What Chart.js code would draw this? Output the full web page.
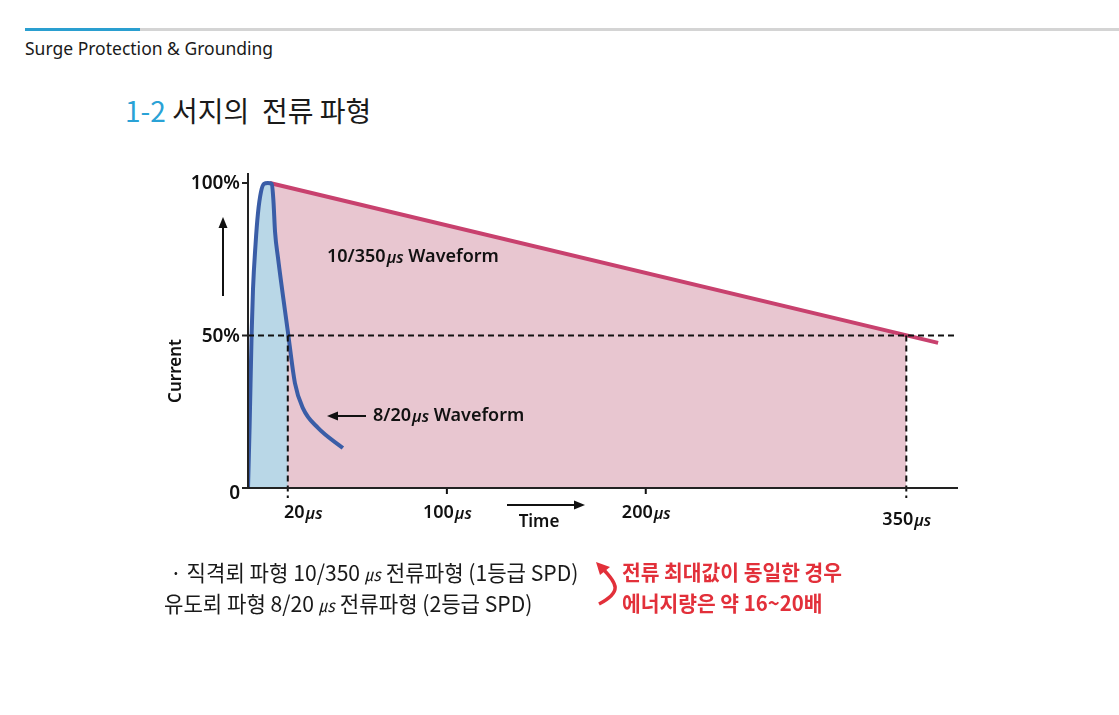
<!DOCTYPE html>
<html>
<head>
<meta charset="utf-8">
<script src="https://cdn.jsdelivr.net/npm/chart.js@4.4.1/dist/chart.umd.min.js"></script>
<style>
  body { margin: 0; background: #fff; width: 1119px; height: 715px; position: relative; overflow: hidden; font-family: "Noto Sans", "Noto Sans CJK KR", sans-serif; }
  #chart { position: absolute; left: 0; top: 0; }
  .txt { position: absolute; white-space: nowrap; color: #1a1a1a; }
  .bar { position: absolute; top: 28px; height: 3px; }
</style>
</head>
<body>
<div class="bar" style="left:25px; width:1094px; background:#d4d4d4;"></div>
<div class="bar" style="left:25px; width:115px; background:#2a9fd0;"></div>
<div class="txt" style="left:25px; top:36px; font-size:17.5px;">Surge Protection &amp; Grounding</div>
<div class="txt" style="left:125px; top:90px; font-size:28px; font-family:'Noto Sans CJK KR';"><span style="color:#2aa2d6;">1-2</span> 서지의&nbsp; 전류 파형</div>

<canvas id="chart" width="1119" height="715"></canvas>

<div class="txt" style="left:170px; top:555px; font-size:22px; line-height:32px; font-family:'Noto Sans CJK KR'; transform-origin:left; transform:scaleX(0.96);">· 직격뢰 파형 10/350 <i style="font-size:17px;">㎲</i> 전류파형 (1등급 SPD)</div>
<div class="txt" style="left:164px; top:586px; font-size:22px; line-height:32px; font-family:'Noto Sans CJK KR'; transform-origin:left; transform:scaleX(0.96);">유도뢰 파형 8/20 <i style="font-size:17px;">㎲</i> 전류파형 (2등급 SPD)</div>
<div class="txt" style="left:622px; top:556px; font-size:21px; line-height:30px; font-weight:bold; color:#e2303a; font-family:'Noto Sans CJK KR'; transform-origin:left; transform:scaleX(0.97);">전류 최대값이 동일한 경우</div>
<div class="txt" style="left:622px; top:587px; font-size:21px; line-height:30px; font-weight:bold; color:#e2303a; font-family:'Noto Sans CJK KR'; transform-origin:left; transform:scaleX(0.97);">에너지량은 약 16~20배</div>
<svg style="position:absolute; left:0; top:0;" width="1119" height="715">
  <path d="M599 604 C 622 592, 618 584, 602 568" fill="none" stroke="#e2303a" stroke-width="3.5"/>
  <polygon points="596,562 610,567 600,575" fill="#e2303a"/>
</svg>

<script>
// 10/350us waveform (time in diagram units, current in %)
const longTime = [0, 11, 331];
const longCurrent = [0, 100, 50.3];
const longTailTime = [11, 347];
const longTailCurrent = [100, 47.6];

// 8/20us waveform
const shortTime = [0, 0.8, 1.8, 2.5, 3.8, 5, 6.5, 8, 10, 12, 12.8, 13.6, 15.1, 20, 23.6, 27.6, 35.2, 47.7];
const shortCurrent = [0, 20, 50, 65, 80, 90, 97, 99.7, 100, 99.7, 94, 84, 75.4, 51.5, 34.4, 26.2, 19.7, 13.1];

// x ticks (the 350 tick sits where the drawing puts it, not to scale)
const xTickPos = [20, 100, 200, 331];
const xTickText = ['20', '100', '200', '350'];
const yTickPos = [100, 50, 0];
const yTickText = ['100%', '50%', '0'];

const pts = (xs, ys) => xs.map((x, i) => ({ x: x, y: ys[i] }));
const shortFillEnd = shortTime.findIndex(t => t > 20);

const overlay = {
    id: 'overlay',
    afterDatasetsDraw(chart) {
        const ctx = chart.ctx;
        const xs = chart.scales.x, ys = chart.scales.y;
        const x0 = xs.getPixelForValue(0), y0 = ys.getPixelForValue(0);
        const y50 = ys.getPixelForValue(50);
        ctx.save();

        // dashed guides
        ctx.strokeStyle = '#111';
        ctx.lineWidth = 2;
        ctx.setLineDash([6, 4]);
        ctx.beginPath();
        ctx.moveTo(x0, y50); ctx.lineTo(chart.chartArea.right, y50);
        [20, 331].forEach(v => {
            const px = xs.getPixelForValue(v);
            ctx.moveTo(px, y50); ctx.lineTo(px, y0 + 10);
        });
        [100, 200].forEach(v => {
            const px = xs.getPixelForValue(v);
            ctx.moveTo(px, y0); ctx.lineTo(px, y0 + 9);
        });
        ctx.stroke();
        ctx.setLineDash([]);

        // axes
        ctx.strokeStyle = '#222';
        ctx.beginPath();
        ctx.moveTo(x0, chart.chartArea.top); ctx.lineTo(x0, y0);
        ctx.moveTo(x0 - 6, y0); ctx.lineTo(chart.chartArea.right, y0);
        [100, 50].forEach(v => {
            const py = ys.getPixelForValue(v);
            ctx.moveTo(x0 - 6, py); ctx.lineTo(x0, py);
        });
        ctx.stroke();

        // y labels
        ctx.fillStyle = '#111';
        ctx.font = '600 19px "Noto Sans"';
        ctx.textAlign = 'right';
        ctx.textBaseline = 'middle';
        yTickPos.forEach((v, i) => {
            ctx.fillText(yTickText[i], x0 - 8, ys.getPixelForValue(v) + (v === 0 ? 6 : 1));
        });

        // x labels: number + italic µs
        xTickPos.forEach((v, i) => {
            const px = xs.getPixelForValue(v);
            ctx.font = '600 18px "Noto Sans"';
            const w1 = ctx.measureText(xTickText[i]).width;
            ctx.font = 'italic 600 16px "Noto Sans"';
            const w2 = ctx.measureText('µs').width;
            const left = px - (w1 + w2) / 2 + (v === 20 ? 15 : 0);
            const py = y0 + (v === 331 ? 32 : 25);
            ctx.textAlign = 'left';
            ctx.font = '600 18px "Noto Sans"';
            ctx.fillText(xTickText[i], left, py);
            ctx.font = 'italic 600 16px "Noto Sans"';
            ctx.fillText('µs', left + w1 + 1, py + 1);
        });

        // Time label and arrow
        ctx.font = '600 17px "Noto Sans"';
        ctx.textAlign = 'center';
        ctx.fillText('Time', 539, 522);
        arrow(ctx, 507, 505, 585, 505);

        // Current label and arrow
        ctx.save();
        ctx.translate(176, 371);
        ctx.rotate(-Math.PI / 2);
        ctx.fillText('Current', 0, 0);
        ctx.restore();
        arrow(ctx, 223, 296, 223, 217);

        // waveform labels
        ctx.textAlign = 'left';
        label(ctx, '10/350', ' Waveform', 327, 257);
        label(ctx, '8/20', ' Waveform', 373, 416);
        arrow(ctx, 366, 416, 327, 416);

        ctx.restore();
    }
};

function label(ctx, a, b, x, y) {
    ctx.font = '600 18px "Noto Sans"';
    ctx.fillText(a, x, y);
    let w = ctx.measureText(a).width;
    ctx.font = 'italic 600 16px "Noto Sans"';
    ctx.fillText('µs', x + w + 1, y + 1);
    w += ctx.measureText('µs').width + 1;
    ctx.font = '600 18px "Noto Sans"';
    ctx.fillText(b, x + w, y);
}

function arrow(ctx, x1, y1, x2, y2) {
    const a = Math.atan2(y2 - y1, x2 - x1);
    ctx.strokeStyle = '#111';
    ctx.lineWidth = 2;
    ctx.beginPath();
    ctx.moveTo(x1, y1);
    ctx.lineTo(x2 - 6 * Math.cos(a), y2 - 6 * Math.sin(a));
    ctx.stroke();
    ctx.beginPath();
    ctx.moveTo(x2, y2);
    ctx.lineTo(x2 - 11 * Math.cos(a) + 4.5 * Math.sin(a), y2 - 11 * Math.sin(a) - 4.5 * Math.cos(a));
    ctx.lineTo(x2 - 11 * Math.cos(a) - 4.5 * Math.sin(a), y2 - 11 * Math.sin(a) + 4.5 * Math.cos(a));
    ctx.closePath();
    ctx.fillStyle = '#111';
    ctx.fill();
}

new Chart(document.getElementById('chart').getContext('2d'), {
    type: 'line',
    data: {
        datasets: [
            {
                data: pts(longTime, longCurrent),
                borderWidth: 0,
                fill: 'origin',
                backgroundColor: '#e8c6d0',
                order: 5
            },
            {
                data: pts(shortTime.slice(0, shortFillEnd), shortCurrent.slice(0, shortFillEnd)),
                borderWidth: 0,
                fill: 'origin',
                backgroundColor: '#b9d7e7',
                cubicInterpolationMode: 'monotone',
                order: 4
            },
            {
                data: pts(longTailTime, longTailCurrent),
                borderColor: '#c8416e',
                borderWidth: 4,
                fill: false,
                order: 3
            },
            {
                data: pts(shortTime, shortCurrent),
                borderColor: '#3a5da7',
                borderWidth: 4,
                fill: false,
                cubicInterpolationMode: 'monotone',
                order: 1
            }
        ]
    },
    options: {
        responsive: false,
        animation: false,
        elements: { point: { radius: 0 } },
        layout: { padding: { left: 248, right: 161, top: 173, bottom: 227 } },
        plugins: { legend: { display: false }, tooltip: { enabled: false } },
        scales: {
            x: { type: 'linear', min: 0, max: 357, display: false },
            y: { min: 0, max: 103.3, display: false }
        }
    },
    plugins: [overlay]
});
</script>
</body>
</html>
